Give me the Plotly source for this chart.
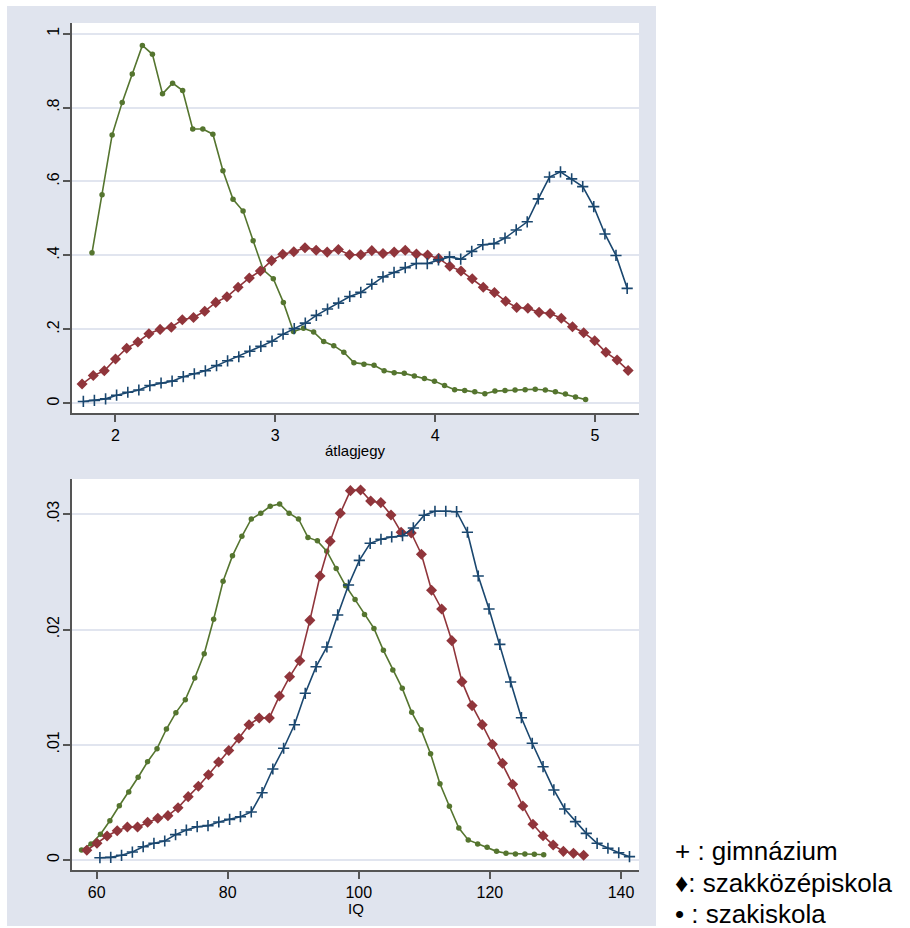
import plotly.graph_objects as go

# ---- átlagjegy (grade point average) densities ----
gpa_gimn_x = [1.800, 1.869, 1.939, 2.008, 2.078, 2.147, 2.216, 2.286, 2.355, 2.425,
              2.494, 2.563, 2.633, 2.702, 2.772, 2.841, 2.910, 2.980, 3.049, 3.119,
              3.188, 3.257, 3.327, 3.396, 3.466, 3.535, 3.604, 3.674, 3.743, 3.813,
              3.882, 3.951, 4.021, 4.090, 4.160, 4.229, 4.298, 4.368, 4.437, 4.507,
              4.576, 4.645, 4.715, 4.784, 4.854, 4.923, 4.992, 5.062, 5.131, 5.201]
gpa_gimn_y = [0.005, 0.008, 0.012, 0.022, 0.030, 0.036, 0.048, 0.055, 0.060, 0.072,
              0.080, 0.088, 0.102, 0.115, 0.126, 0.141, 0.154, 0.168, 0.187, 0.202,
              0.217, 0.238, 0.255, 0.271, 0.289, 0.300, 0.322, 0.342, 0.354, 0.367,
              0.378, 0.378, 0.388, 0.396, 0.390, 0.411, 0.429, 0.432, 0.447, 0.469,
              0.491, 0.553, 0.612, 0.626, 0.607, 0.586, 0.532, 0.458, 0.400, 0.311]

gpa_szkoz_x = [1.792, 1.862, 1.931, 2.001, 2.071, 2.141, 2.210, 2.280, 2.350, 2.419,
               2.489, 2.559, 2.628, 2.698, 2.768, 2.838, 2.907, 2.977, 3.047, 3.116,
               3.186, 3.256, 3.325, 3.395, 3.465, 3.535, 3.604, 3.674, 3.744, 3.813,
               3.883, 3.953, 4.022, 4.092, 4.162, 4.232, 4.301, 4.371, 4.441, 4.510,
               4.580, 4.650, 4.719, 4.789, 4.859, 4.929, 4.998, 5.068, 5.138, 5.207]
gpa_szkoz_y = [0.052, 0.075, 0.088, 0.120, 0.149, 0.166, 0.188, 0.200, 0.206, 0.226,
               0.232, 0.249, 0.273, 0.288, 0.314, 0.339, 0.358, 0.386, 0.403, 0.410,
               0.421, 0.414, 0.409, 0.416, 0.402, 0.402, 0.413, 0.405, 0.409, 0.414,
               0.404, 0.401, 0.392, 0.371, 0.358, 0.337, 0.314, 0.300, 0.276, 0.259,
               0.257, 0.246, 0.243, 0.230, 0.207, 0.191, 0.169, 0.138, 0.117, 0.089]

gpa_szak_x = [1.854, 1.917, 1.980, 2.043, 2.106, 2.169, 2.232, 2.295, 2.358, 2.421,
              2.484, 2.547, 2.610, 2.673, 2.736, 2.799, 2.862, 2.925, 2.988, 3.051,
              3.114, 3.177, 3.240, 3.303, 3.366, 3.429, 3.492, 3.555, 3.618, 3.681,
              3.744, 3.807, 3.870, 3.933, 3.996, 4.059, 4.122, 4.185, 4.248, 4.311,
              4.374, 4.437, 4.500, 4.563, 4.626, 4.689, 4.752, 4.815, 4.878, 4.941]
gpa_szak_y = [0.407, 0.564, 0.726, 0.814, 0.891, 0.968, 0.944, 0.837, 0.866, 0.846,
              0.742, 0.742, 0.728, 0.629, 0.552, 0.520, 0.440, 0.361, 0.337, 0.273,
              0.194, 0.203, 0.193, 0.167, 0.156, 0.138, 0.110, 0.106, 0.103, 0.088,
              0.083, 0.081, 0.074, 0.067, 0.060, 0.048, 0.037, 0.035, 0.031, 0.026,
              0.033, 0.035, 0.036, 0.037, 0.038, 0.036, 0.031, 0.025, 0.017, 0.010]

# ---- IQ densities ----
iq_gimn_x = [60.50, 62.15, 63.80, 65.45, 67.10, 68.74, 70.39, 72.04, 73.69, 75.34,
             76.99, 78.64, 80.29, 81.94, 83.59, 85.24, 86.88, 88.53, 90.18, 91.83,
             93.48, 95.13, 96.78, 98.43, 100.08, 101.73, 103.38, 105.02, 106.67, 108.32,
             109.97, 111.62, 113.27, 114.92, 116.57, 118.22, 119.87, 121.52, 123.16, 124.81,
             126.46, 128.11, 129.76, 131.41, 133.06, 134.71, 136.36, 138.01, 139.66, 141.30]
iq_gimn_y = [0.00020, 0.00023, 0.00041, 0.00069, 0.00115, 0.00145, 0.00165, 0.00220, 0.00260, 0.00289,
             0.00298, 0.00330, 0.00353, 0.00376, 0.00417, 0.00584, 0.00790, 0.00970, 0.01174, 0.01447,
             0.01678, 0.01849, 0.02127, 0.02387, 0.02601, 0.02749, 0.02784, 0.02804, 0.02815, 0.02882,
             0.02992, 0.03027, 0.03027, 0.03023, 0.02845, 0.02465, 0.02179, 0.01872, 0.01545, 0.01235,
             0.01013, 0.00810, 0.00608, 0.00443, 0.00333, 0.00231, 0.00145, 0.00102, 0.00063, 0.00029]

iq_szkoz_x = [58.50, 60.05, 61.59, 63.14, 64.69, 66.24, 67.78, 69.33, 70.88, 72.42,
              73.97, 75.52, 77.06, 78.61, 80.16, 81.70, 83.25, 84.80, 86.35, 87.89,
              89.44, 90.99, 92.53, 94.08, 95.63, 97.17, 98.72, 100.27, 101.81, 103.36,
              104.91, 106.46, 108.00, 109.55, 111.10, 112.64, 114.19, 115.74, 117.28, 118.83,
              120.38, 121.92, 123.47, 125.02, 126.57, 128.11, 129.66, 131.21, 132.75, 134.30]
iq_szkoz_y = [0.00084, 0.00145, 0.00208, 0.00254, 0.00286, 0.00286, 0.00327, 0.00362, 0.00385, 0.00454,
              0.00550, 0.00640, 0.00740, 0.00850, 0.00950, 0.01056, 0.01174, 0.01233, 0.01233, 0.01424,
              0.01590, 0.01730, 0.02080, 0.02465, 0.02766, 0.03010, 0.03206, 0.03212, 0.03116, 0.03102,
              0.02995, 0.02845, 0.02839, 0.02654, 0.02341, 0.02179, 0.01904, 0.01548, 0.01340, 0.01175,
              0.01004, 0.00840, 0.00657, 0.00469, 0.00310, 0.00211, 0.00130, 0.00075, 0.00058, 0.00041]

iq_szak_x = [57.70, 59.14, 60.58, 62.02, 63.46, 64.90, 66.33, 67.77, 69.21, 70.65,
             72.09, 73.53, 74.97, 76.41, 77.85, 79.29, 80.72, 82.16, 83.60, 85.04,
             86.48, 87.92, 89.36, 90.80, 92.24, 93.68, 95.11, 96.55, 97.99, 99.43,
             100.87, 102.31, 103.75, 105.19, 106.63, 108.07, 109.51, 110.95, 112.38, 113.82,
             115.26, 116.70, 118.14, 119.58, 121.02, 122.46, 123.90, 125.34, 126.78, 128.21]
iq_szak_y = [0.00087, 0.00139, 0.00223, 0.00341, 0.00471, 0.00590, 0.00718, 0.00853, 0.00966, 0.01137,
             0.01279, 0.01392, 0.01580, 0.01790, 0.02090, 0.02420, 0.02640, 0.02810, 0.02960, 0.03010,
             0.03070, 0.03090, 0.03010, 0.02960, 0.02800, 0.02770, 0.02680, 0.02530, 0.02380, 0.02260,
             0.02130, 0.02010, 0.01820, 0.01650, 0.01490, 0.01282, 0.01131, 0.00923, 0.00662, 0.00466,
             0.00278, 0.00174, 0.00139, 0.00110, 0.00075, 0.00058, 0.00052, 0.00052, 0.00050, 0.00046]

gpa_ticks = [2, 3, 4, 5]
gpa_yticks = [0, 0.2, 0.4, 0.6, 0.8, 1.0]
gpa_yticktext = ["0", ".2", ".4", ".6", ".8", "1"]
iq_ticks = [60, 80, 100, 120, 140]
iq_yticks = [0, 0.01, 0.02, 0.03]
iq_yticktext = ["0", ".01", ".02", ".03"]

legend_lines = ["+ : gimnázium", "\u2666: szakközépiskola", "\u2022 : szakiskola"]

# ---- styling ----
W, H = 910, 928
NAVY = "#1a476f"
MAROON = "#90353b"
GREEN = "#55752f"
FRAME = "#e0e4ee"
GRID = "#e1e5ef"
AXIS = "#555555"
FONT = "Liberation Sans, Arial, sans-serif"

def px_x(p):
    return p / W

def px_y(p):
    return 1 - p / H

series_style = {
    "gimn": dict(color=NAVY, marker=dict(symbol="cross-thin", size=8,
                                           line=dict(color=NAVY, width=1.6))),
    "szkoz": dict(color=MAROON, marker=dict(symbol="diamond", size=8.5, color=MAROON)),
    "szak": dict(color=GREEN, marker=dict(symbol="circle", size=5.5, color=GREEN)),
}

fig = go.Figure()

def add_line(x, y, key, xa, ya):
    st = series_style[key]
    fig.add_trace(go.Scatter(
        x=x, y=y, mode="lines+markers", xaxis=xa, yaxis=ya,
        line=dict(color=st["color"], width=1.6),
        marker=st["marker"], showlegend=False, hoverinfo="skip"))

add_line(gpa_szak_x, gpa_szak_y, "szak", "x", "y")
add_line(gpa_szkoz_x, gpa_szkoz_y, "szkoz", "x", "y")
add_line(gpa_gimn_x, gpa_gimn_y, "gimn", "x", "y")
add_line(iq_szak_x, iq_szak_y, "szak", "x2", "y2")
add_line(iq_szkoz_x, iq_szkoz_y, "szkoz", "x2", "y2")
add_line(iq_gimn_x, iq_gimn_y, "gimn", "x2", "y2")

xdom = [px_x(72), px_x(639)]
top_dom = [px_y(413.3), px_y(23)]
bot_dom = [px_y(870), px_y(479)]

axis_common = dict(
    showline=True, linecolor=AXIS, linewidth=1.5,
    ticks="outside", ticklen=7, tickwidth=1.5, tickcolor=AXIS,
    tickfont=dict(family=FONT, size=16, color="#000000"),
    zeroline=False, fixedrange=True,
)

fig.update_layout(
    width=W, height=H,
    margin=dict(l=0, r=0, t=0, b=0),
    paper_bgcolor="white", plot_bgcolor="white",
    xaxis=dict(domain=xdom, anchor="y", range=[1.729, 5.275],
               tickmode="array", tickvals=gpa_ticks, showgrid=False, **axis_common),
    yaxis=dict(domain=top_dom, anchor="x", range=[-0.027, 1.0287],
               tickmode="array", tickvals=gpa_yticks, ticktext=gpa_yticktext,
               tickangle=-90, ticklabelstandoff=-2,
               showgrid=True, gridcolor=GRID, gridwidth=2, **axis_common),
    xaxis2=dict(domain=xdom, anchor="y2", range=[56.24, 142.75],
                tickmode="array", tickvals=iq_ticks, showgrid=False, **axis_common),
    yaxis2=dict(domain=bot_dom, anchor="x2", range=[-0.000868, 0.03307],
                tickmode="array", tickvals=iq_yticks, ticktext=iq_yticktext,
                tickangle=-90, ticklabelstandoff=-2,
                showgrid=True, gridcolor=GRID, gridwidth=2, **axis_common),
)

# outer graph region and white plot regions
shapes = [
    dict(type="rect", xref="paper", yref="paper", layer="below",
         x0=px_x(7), x1=px_x(656), y0=px_y(926), y1=px_y(6),
         fillcolor=FRAME, line=dict(width=0)),
    dict(type="rect", xref="paper", yref="paper", layer="below",
         x0=xdom[0], x1=xdom[1], y0=top_dom[0], y1=top_dom[1],
         fillcolor="white", line=dict(width=0)),
    dict(type="rect", xref="paper", yref="paper", layer="below",
         x0=xdom[0], x1=xdom[1], y0=bot_dom[0], y1=bot_dom[1],
         fillcolor="white", line=dict(width=0)),
]
fig.update_layout(shapes=shapes)

annotations = [
    dict(text="átlagjegy", x=px_x(355), y=px_y(450), xref="paper", yref="paper",
         xanchor="center", yanchor="middle", showarrow=False,
         font=dict(family=FONT, size=15, color="#000000")),
    dict(text="IQ", x=px_x(356), y=px_y(908), xref="paper", yref="paper",
         xanchor="center", yanchor="middle", showarrow=False,
         font=dict(family=FONT, size=15, color="#000000")),
]
for i, txt in enumerate(legend_lines):
    annotations.append(dict(
        text=txt, x=px_x(673), y=px_y(851 + 31.5 * i), xref="paper", yref="paper",
        xanchor="left", yanchor="middle", showarrow=False,
        font=dict(family=FONT, size=26, color="#000000")))
fig.update_layout(annotations=annotations)

fig.write_html("out.html")
